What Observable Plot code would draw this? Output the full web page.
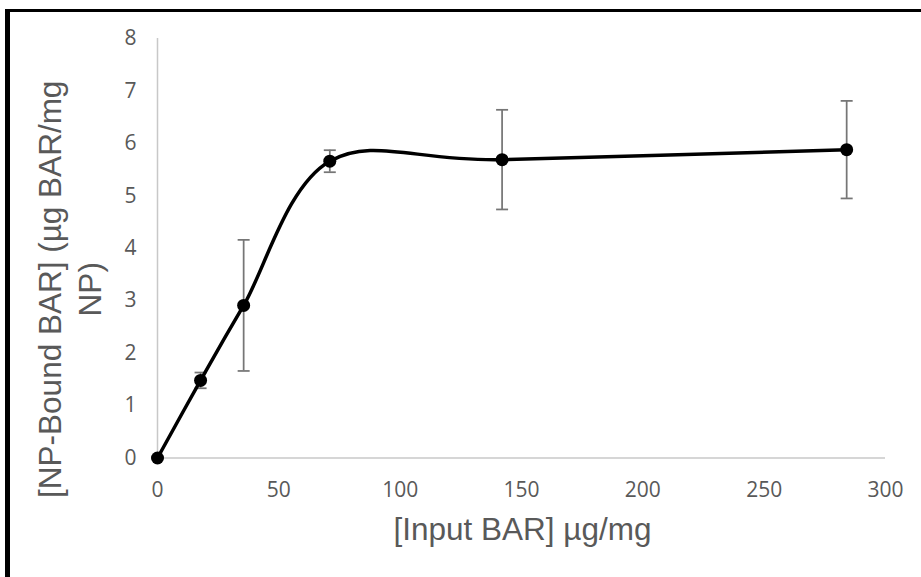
<!DOCTYPE html>
<html>
<head>
<meta charset="utf-8">
<script src="https://cdn.jsdelivr.net/npm/d3@7"></script>
<script src="https://cdn.jsdelivr.net/npm/@observablehq/plot@0.6"></script>
<style>
  html, body { margin: 0; padding: 0; background: #fff; }
  #wrap { position: relative; width: 921px; height: 577px; overflow: hidden; }
  #wrap svg { position: absolute; left: 0; top: 0; }
  #frame { position: absolute; left: 5px; top: 9px; right: -10px; bottom: -10px;
           border-left: 5px solid #000; border-top: 3px solid #000; pointer-events: none; }
</style>
</head>
<body>
<div id="wrap"><div id="frame"></div></div>
<script>
// Data
const inputBAR = [0, 17.75, 35.5, 71, 142, 284];          // µg/mg
const boundBAR = [0, 1.48, 2.91, 5.66, 5.69, 5.88];        // µg BAR/mg NP
const errBAR   = [0, 0.15, 1.25, 0.21, 0.95, 0.93];        // ± error
const xTicks = [0, 50, 100, 150, 200, 250, 300];
const yTicks = [0, 1, 2, 3, 4, 5, 6, 7, 8];
const xTitle = "[Input BAR] µg/mg";
const yTitle = "[NP-Bound BAR] (µg BAR/mg\nNP)";

const data = inputBAR.map((x, i) => ({x, y: boundBAR[i], e: errBAR[i]}));
const bars = data.filter(d => d.e > 0);
const caps = bars.flatMap(d => [{x: d.x, y: d.y + d.e}, {x: d.x, y: d.y - d.e}]);

const capSymbol = {
  draw(ctx, size) {
    const w = Math.sqrt(size / Math.PI);
    ctx.moveTo(-w, 0);
    ctx.lineTo(w, 0);
  }
};

const chart = Plot.plot({
  width: 921,
  height: 577,
  marginLeft: 157,
  marginRight: 36,
  marginTop: 38,
  marginBottom: 119.5,
  style: {fontFamily: "'Open Sans', sans-serif", fontSize: "21px", color: "#595959", background: "transparent"},
  x: {domain: [0, 300], ticks: xTicks, tickSize: 0, tickPadding: 24, label: null},
  y: {domain: [0, 8], ticks: yTicks, tickSize: 0, tickPadding: 21, label: null},
  marks: [
    Plot.ruleX([0], {y1: 0, y2: 8, stroke: "#c8c8c8", strokeWidth: 1.5}),
    Plot.ruleY([0], {stroke: "#c8c8c8", strokeWidth: 1.5}),
    Plot.ruleX(bars, {x: "x", y1: d => d.y - d.e, y2: d => d.y + d.e, stroke: "#767676", strokeWidth: 1.75}),
    Plot.dot(caps, {x: "x", y: "y", r: 6, symbol: capSymbol, stroke: "#767676", strokeWidth: 1.75, fill: "none"}),
    Plot.line(data, {x: "x", y: "y", curve: "cardinal", stroke: "#000", strokeWidth: 3.5}),
    Plot.dot(data, {x: "x", y: "y", r: 6.5, fill: "#000", stroke: "none"}),
    Plot.text([xTitle], {frameAnchor: "bottom", textAnchor: "middle", lineAnchor: "middle", dx: 1, dy: 72,
      fontFamily: "'Liberation Sans', Arial, sans-serif", fontSize: 31.5, fill: "#595959"}),
    Plot.text([yTitle], {frameAnchor: "left", textAnchor: "middle", lineAnchor: "middle", rotate: -90,
      dx: -89.5, dy: 41, lineHeight: 1.27,
      fontFamily: "'Liberation Sans', Arial, sans-serif", fontSize: 31.5, fill: "#595959"})
  ]
});
document.getElementById("wrap").prepend(chart);
</script>
</body>
</html>
